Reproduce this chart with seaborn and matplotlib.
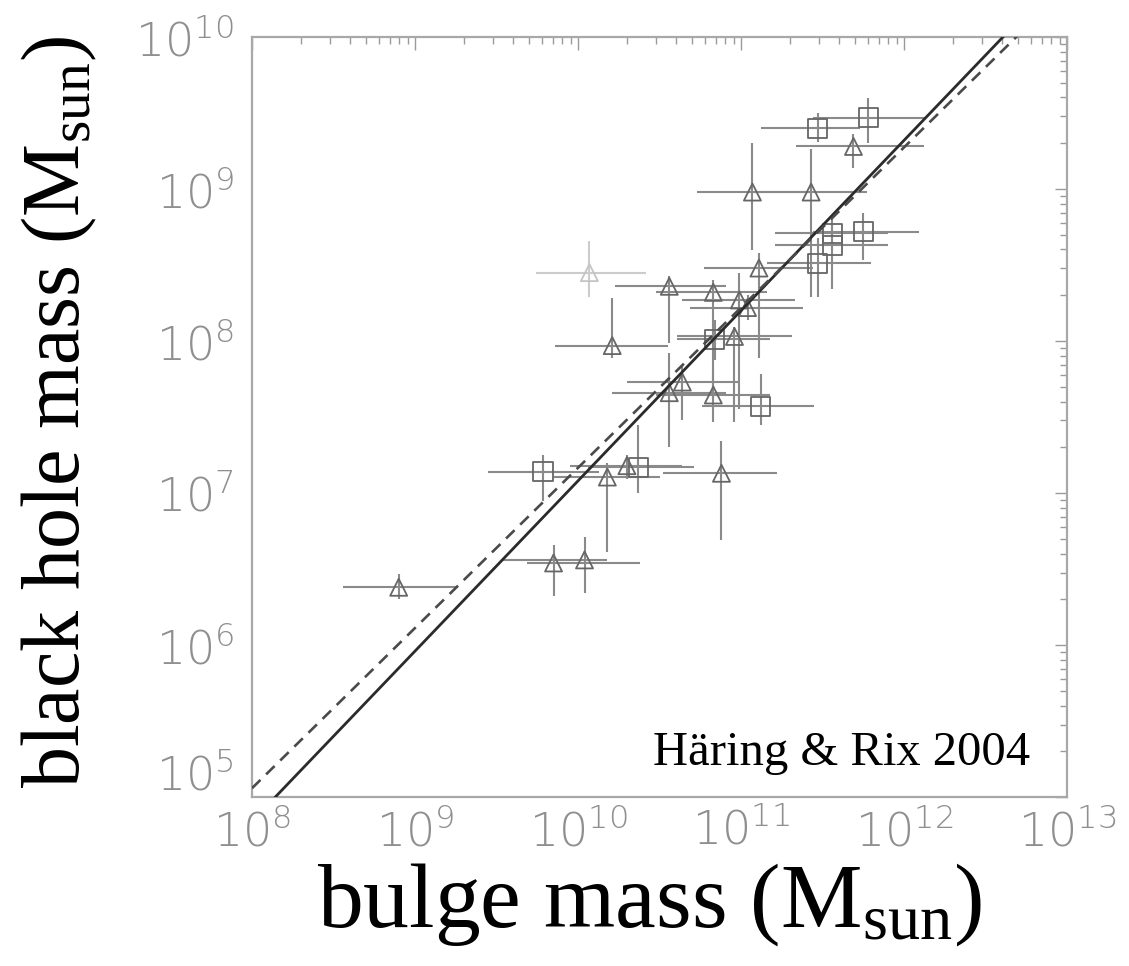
import numpy as np
import pandas as pd
import matplotlib
matplotlib.use("Agg")
import matplotlib.pyplot as plt
import matplotlib.transforms as mtransforms
import seaborn as sns
from matplotlib.ticker import LogLocator, FixedLocator

# log10 bulge mass, log10 black hole mass, and the 1-sigma ranges (log10)
marker_type = ["square"] * 10 + ["triangle"] * 20
log_mbulge = [11.78, 11.47, 11.56, 11.75, 11.56, 11.47, 10.84, 11.12, 9.785, 10.37,
              11.69, 11.07, 11.43, 11.11, 10.07, 10.56, 10.83, 10.99, 11.04, 10.21,
              10.96, 10.64, 10.56, 10.83, 10.18, 10.30, 10.88, 9.85, 10.04, 8.90]
log_mbh = [9.47, 9.40, 8.71, 8.72, 8.63, 8.51, 8.01, 7.57, 7.14, 7.17,
           9.28, 8.98, 8.98, 8.48, 8.45, 8.36, 8.32, 8.27, 8.22, 7.97,
           8.03, 7.73, 7.66, 7.645, 7.105, 7.18, 7.13, 6.54, 6.56, 6.38]
mbulge_lo = [11.44, 11.12, 11.21, 11.44, 11.21, 11.16, 10.61, 10.76, 9.45, 10.06,
             11.34, 10.73, 11.07, 10.77, 9.74, 10.23, 10.48, 10.64, 10.69, 9.86,
             10.61, 10.30, 10.21, 10.48, 9.85, 9.95, 10.52, 9.69, 9.54, 8.56]
mbulge_hi = [12.13, 11.73, 11.90, 12.09, 11.90, 11.80, 11.18, 11.45, 10.13, 10.71,
             12.12, 11.42, 11.77, 11.44, 10.42, 10.91, 11.16, 11.33, 11.38, 10.55,
             11.31, 10.98, 10.91, 11.18, 10.50, 10.64, 11.22, 10.38, 10.18, 9.26]
mbh_lo = [9.30, 9.31, 8.59, 8.53, 8.34, 8.29, 7.875, 7.45, 6.95, 7.00,
          9.14, 8.60, 8.29, 7.89, 8.29, 7.99, 7.61, 7.55, 8.14, 7.89,
          7.47, 7.48, 7.30, 7.47, 6.61, 7.09, 6.69, 6.32, 6.34, 6.30]
mbh_hi = [9.60, 9.50, 8.83, 8.84, 8.76, 8.68, 8.14, 7.78, 7.25, 7.45,
          9.36, 9.30, 9.26, 8.58, 8.66, 8.43, 8.40, 8.45, 8.30, 8.28,
          8.09, 7.84, 7.92, 7.81, 7.20, 7.25, 7.34, 6.66, 6.71, 6.47]
uncertain = [False] * 14 + [True] + [False] * 15

# fitted relations: log M_bh = zero_point + slope * (log M_bulge - 11)
fit_solid = (8.20, 1.12)
fit_dashed = (8.22, 1.054)

df = pd.DataFrame({
    "type": marker_type,
    "mbulge": 10.0 ** np.array(log_mbulge),
    "mbh": 10.0 ** np.array(log_mbh),
    "xlo": 10.0 ** np.array(mbulge_lo),
    "xhi": 10.0 ** np.array(mbulge_hi),
    "ylo": 10.0 ** np.array(mbh_lo),
    "yhi": 10.0 ** np.array(mbh_hi),
    "uncertain": uncertain,
})

sns.set_style("white")
plt.rcParams["mathtext.fontset"] = "custom"
plt.rcParams["mathtext.rm"] = "Liberation Serif"

fig = plt.figure(figsize=(11.29, 9.66), dpi=100)
ax = fig.add_axes([0.2232, 0.1749, 0.7219, 0.7868])
ax.set_xscale("log")
ax.set_yscale("log")

# error bars
for faint, sub in df.groupby("uncertain"):
    col = "#cccccc" if faint else "#8a8a8a"
    ax.errorbar(sub["mbulge"], sub["mbh"],
                xerr=[sub["mbulge"] - sub["xlo"], sub["xhi"] - sub["mbulge"]],
                yerr=[sub["mbh"] - sub["ylo"], sub["yhi"] - sub["mbh"]],
                fmt="none", ecolor=col, elinewidth=1.5, capsize=0, zorder=2)

# open markers
for mtype, mk, size in [("square", "s", 190), ("triangle", "^", 150)]:
    for faint in (False, True):
        sub = df[(df["type"] == mtype) & (df["uncertain"] == faint)]
        if sub.empty:
            continue
        col = "#c4c4c4" if faint else "#666666"
        sns.scatterplot(data=sub, x="mbulge", y="mbh", marker=mk, s=size,
                        ax=ax, zorder=3, legend=False)
        coll = ax.collections[-1]
        coll.set_facecolor("none")
        coll.set_edgecolor(col)
        coll.set_linewidth(1.3)

# relations
lx = np.linspace(8, 13, 200)
a, b = fit_solid
ax.plot(10 ** lx, 10 ** (a + b * (lx - 11)), color="#2b2b2b", lw=2.0, zorder=4)
a, b = fit_dashed
ax.plot(10 ** lx, 10 ** (a + b * (lx - 11)), color="#4a4a4a", lw=1.9,
        dashes=(4.5, 3), zorder=4)

ax.set_xlim(1e8, 1e13)
ax.set_ylim(1e5, 1e10)

# ticks
tick_grey = "#8f8f8f"
for axis in (ax.xaxis, ax.yaxis):
    axis.set_minor_locator(LogLocator(base=10, subs=np.arange(2, 10), numticks=20))
ax.tick_params(which="both", direction="in", top=True, right=True,
               color="#9a9a9a", width=1.0)
ax.tick_params(which="major", length=9)
ax.tick_params(which="minor", length=5)
ax.tick_params(axis="x", which="major", pad=8)
ax.tick_params(axis="y", which="major", pad=13)

x_exps = [8, 9, 10, 11, 12, 13]
y_exps = [5, 6, 7, 8, 9, 10]
ax.xaxis.set_major_locator(FixedLocator([10.0 ** e for e in x_exps]))
ax.yaxis.set_major_locator(FixedLocator([10.0 ** e for e in y_exps]))
ax.set_xticklabels([r"$\mathregular{10^{%d}}$" % e for e in x_exps])
ax.set_yticklabels([r"$\mathregular{10^{%d}}$" % e for e in y_exps])
for lab in ax.get_xticklabels() + ax.get_yticklabels():
    lab.set_fontfamily("DejaVu Sans")
    lab.set_fontsize(33)
    lab.set_color(tick_grey)
    lab.set_fontweight("light")

# lift the lowest y label clear of the corner
lowest = ax.get_yticklabels()[0]
lowest.set_transform(lowest.get_transform()
                     + mtransforms.ScaledTranslation(0, 18 / 72, fig.dpi_scale_trans))

for sp in ax.spines.values():
    sp.set_color("#a8a8a8")
    sp.set_linewidth(1.6)

ax.set_xlabel(r"bulge mass (M$\mathregular{_{sun}}$)", fontfamily="Liberation Serif",
              fontsize=66, color="black")
ax.set_ylabel(r"black hole mass (M$\mathregular{_{sun}}$)", fontfamily="Liberation Serif",
              fontsize=59, color="black")
ax.xaxis.label.set_va("center")
ax.yaxis.label.set_va("center")
ax.xaxis.set_label_coords(0.488, -0.142)
ax.yaxis.set_label_coords(-0.236, 0.507)

ax.text(0.955, 0.042, "Häring & Rix 2004", transform=ax.transAxes,
        ha="right", va="baseline", fontfamily="Liberation Serif",
        fontsize=35, color="black")

fig.savefig("out.png", dpi=100, facecolor="white")
